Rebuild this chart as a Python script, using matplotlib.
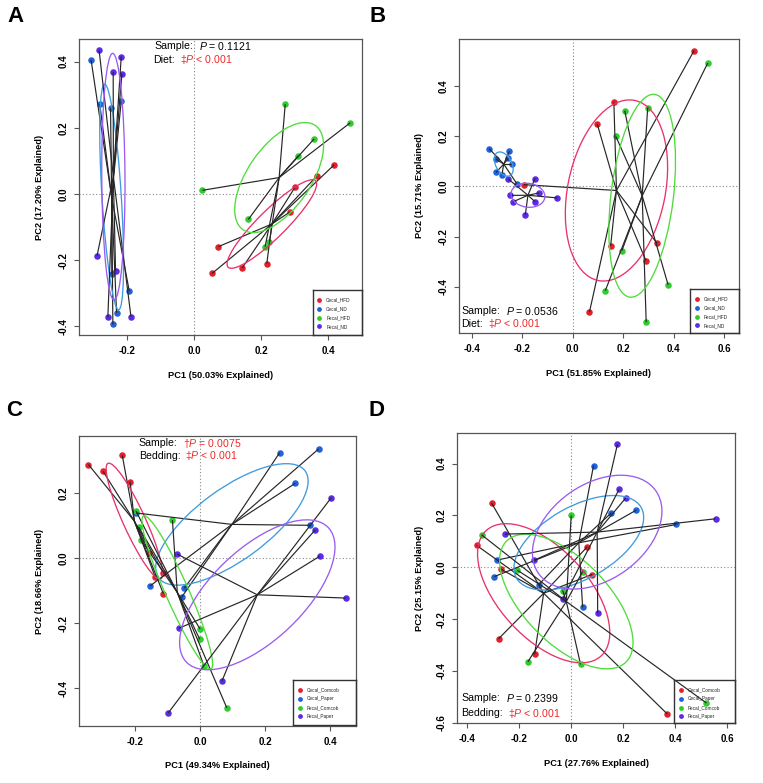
import numpy as np
import matplotlib
matplotlib.use("Agg")
import matplotlib.pyplot as plt
from matplotlib.patches import Ellipse

plt.rcParams['font.family'] = ['Liberation Sans', 'DejaVu Sans']
plt.rcParams['mathtext.fontset'] = 'custom'
plt.rcParams['mathtext.rm'] = 'Liberation Sans'
plt.rcParams['mathtext.it'] = 'Liberation Sans:italic'

# ---------------- data ----------------
diet_groups = ["Cecal_HFD", "Cecal_ND", "Fecal_HFD", "Fecal_ND"]
bedding_groups = ["Cecal_Comcob", "Cecal_Paper", "Fecal_Comcob", "Fecal_Paper"]

# Panel A (Diet, PCA)
a_x = [0.054, 0.073, 0.144, 0.217, 0.285, 0.301, 0.366, 0.418,
       -0.307, -0.281, -0.249, -0.217, -0.245, -0.193, -0.231, -0.242,
       0.025, 0.162, 0.212, 0.225, 0.272, 0.311, 0.358, 0.466,
       -0.283, -0.217, -0.241, -0.215, -0.289, -0.234, -0.257, -0.188]
a_y = [-0.240, -0.159, -0.223, -0.211, -0.055, 0.020, 0.054, 0.088,
       0.405, 0.271, 0.259, 0.281, -0.243, -0.294, -0.359, -0.394,
       0.011, -0.077, -0.159, -0.146, 0.271, 0.115, 0.166, 0.215,
       0.434, 0.415, 0.368, 0.363, -0.186, -0.232, -0.373, -0.371]
a_grp = [0]*8 + [1]*8 + [2]*8 + [3]*8

# Panel B (Diet, PCoA)
b_x = [0.481, 0.163, 0.097, 0.150, 0.290, 0.334, 0.066, -0.195,
       -0.331, -0.251, -0.305, -0.255, -0.241, -0.304, -0.281, -0.222,
       0.535, 0.206, 0.297, 0.171, 0.195, 0.129, 0.378, 0.291,
       -0.255, -0.150, -0.133, -0.247, -0.238, -0.150, -0.061, -0.188]
b_y = [0.542, 0.335, 0.249, -0.239, -0.296, -0.227, -0.502, 0.007,
       0.150, 0.140, 0.109, 0.112, 0.089, 0.056, 0.045, 0.011,
       0.492, 0.302, 0.314, 0.199, -0.256, -0.416, -0.393, -0.542,
       0.029, 0.031, -0.026, -0.036, -0.062, -0.061, -0.046, -0.113]
b_grp = [0]*8 + [1]*8 + [2]*8 + [3]*8

# Panel C (Bedding, PCA)
c_x = [-0.343, -0.298, -0.239, -0.215, -0.156, -0.138, -0.113, -0.113,
       -0.197, -0.154, -0.049, -0.057, 0.244, 0.364, 0.292, 0.339,
       -0.197, -0.085, -0.189, -0.182, 0.000, -0.001, 0.012, 0.082,
       -0.070, -0.065, 0.067, -0.098, 0.354, 0.368, 0.403, 0.447]
c_y = [0.289, 0.268, 0.317, 0.236, 0.017, -0.057, -0.044, -0.108,
       0.140, -0.085, -0.092, -0.120, 0.325, 0.337, 0.231, 0.102,
       0.146, 0.118, 0.097, 0.058, -0.217, -0.249, -0.331, -0.460,
       0.013, -0.215, -0.378, -0.476, 0.088, 0.007, 0.187, -0.122]
c_grp = [0]*8 + [1]*8 + [2]*8 + [3]*8

# Panel D (Bedding, PCoA)
d_x = [-0.307, -0.364, -0.269, 0.062, 0.080, -0.280, -0.141, 0.370,
       0.086, 0.155, 0.250, 0.405, -0.284, -0.296, -0.126, 0.044,
       -0.345, -0.207, 0.000, 0.044, -0.033, -0.167, 0.036, 0.521,
       0.178, 0.184, 0.210, 0.556, -0.255, -0.143, -0.032, 0.102]
d_y = [0.248, 0.084, -0.008, 0.079, -0.028, -0.276, -0.336, -0.566,
       0.392, 0.210, 0.220, 0.165, 0.028, -0.036, -0.068, -0.155,
       0.125, -0.012, 0.200, -0.017, -0.090, -0.365, -0.375, -0.524,
       0.474, 0.300, 0.267, 0.187, 0.128, 0.027, -0.121, -0.178]
d_grp = [0]*8 + [1]*8 + [2]*8 + [3]*8

pc1_labels = ["PC1 (50.03% Explained)", "PC1 (51.85% Explained)",
              "PC1 (49.34% Explained)", "PC1 (27.76% Explained)"]
pc2_labels = ["PC2 (17.20% Explained)", "PC2 (15.71% Explained)",
              "PC2 (18.66% Explained)", "PC2 (25.15% Explained)"]
sample_p = ["P = 0.1121", "P = 0.0536", "†P = 0.0075", "P = 0.2399"]
factor_p = ["‡P < 0.001", "‡P < 0.001", "‡P < 0.001", "‡P < 0.001"]
factor_names = ["Diet:", "Diet:", "Bedding:", "Bedding:"]
sample_sig = [False, False, True, False]

# ---------------- style ----------------
W, H = 763, 783
point_cols = ['#E3212B', '#2162DB', '#2FCB2F', '#5B2BE8']
ell_cols = ['#E8336A', '#3E9BE0', '#4EDC3A', '#9A5CF0']
red_txt = '#F02828'
box_col = '#555555'

fig = plt.figure(figsize=(W / 100, H / 100), dpi=100)


def px_rect(l, t, r, b):
    return [l / W, 1 - b / H, (r - l) / W, (b - t) / H]


def fmt_p(s):
    return s.replace("P", "$P$")


panels = [
    dict(x=a_x, y=a_y, g=a_grp, names=diet_groups, rect=(79, 39, 362, 335),
         xlim=(-0.343, 0.501), ylim=(-0.426, 0.468),
         xt=[-0.2, 0.0, 0.2, 0.4], yt=[-0.4, -0.2, 0.0, 0.2, 0.4],
         letter=('A', 15, 16), txt=(154, 199, 46, 153, 180, 60),
         leg=(312.7, 290, 362, 335), xl=41, yl=39),
    dict(x=b_x, y=b_y, g=b_grp, names=diet_groups, rect=(459, 39, 739, 333),
         xlim=(-0.451, 0.659), ylim=(-0.585, 0.588),
         xt=[-0.4, -0.2, 0.0, 0.2, 0.4, 0.6], yt=[-0.4, -0.2, 0.0, 0.2, 0.4],
         letter=('B', 378, 16), txt=(461, 506, 310.7, 461, 487.7, 324),
         leg=(690.3, 289, 739.3, 333.3), xl=40, yl=39),
    dict(x=c_x, y=c_y, g=c_grp, names=bedding_groups, rect=(79, 436, 356, 726),
         xlim=(-0.372, 0.479), ylim=(-0.516, 0.377),
         xt=[-0.2, 0.0, 0.2, 0.4], yt=[-0.4, -0.2, 0.0, 0.2],
         letter=('C', 14, 411), txt=(138.7, 182.7, 443.3, 138.7, 185.3, 456),
         leg=(293.3, 680, 356, 725), xl=40, yl=39),
    dict(x=d_x, y=d_y, g=d_grp, names=bedding_groups, rect=(457, 433, 735, 723),
         xlim=(-0.440, 0.631), ylim=(-0.601, 0.518),
         xt=[-0.4, -0.2, 0.0, 0.2, 0.4, 0.6], yt=[-0.6, -0.4, -0.2, 0.0, 0.2, 0.4],
         letter=('D', 377, 411), txt=(461, 505.7, 698.3, 461, 507.7, 713.3),
         leg=(674, 680, 734.7, 723.3), xl=40, yl=38),
]

for i, p in enumerate(panels):
    l, t, r, b = p['rect']
    ax = fig.add_axes(px_rect(l, t, r, b))
    ax.set_xlim(*p['xlim'])
    ax.set_ylim(*p['ylim'])
    x = np.array(p['x'])
    y = np.array(p['y'])
    g = np.array(p['g'])

    ax.axhline(0, color='#888888', lw=0.8, ls=(0, (1, 2)), zorder=1)
    ax.axvline(0, color='#888888', lw=0.8, ls=(0, (1, 2)), zorder=1)

    for k in range(4):
        m = g == k
        gx, gy = x[m], y[m]
        ax.scatter(gx, gy, s=22, color=point_cols[k], zorder=2, linewidths=0)
        cx, cy = gx.mean(), gy.mean()
        for px_, py_ in zip(gx, gy):
            ax.plot([cx, px_], [cy, py_], color='#262626', lw=0.85, zorder=3,
                    solid_capstyle='butt')
        cov = np.cov(gx, gy)
        vals, vecs = np.linalg.eigh(cov)
        ang = np.degrees(np.arctan2(vecs[1, 1], vecs[0, 1]))
        e = Ellipse((cx, cy), 2 * np.sqrt(vals[1]), 2 * np.sqrt(vals[0]),
                    angle=ang, fill=False, edgecolor=ell_cols[k], lw=0.95, zorder=3)
        ax.add_patch(e)

    for s in ax.spines.values():
        s.set_color(box_col)
        s.set_linewidth(0.9)
    ax.set_xticks(p['xt'])
    ax.set_xticklabels([f"{v:.1f}" for v in p['xt']], fontweight='bold', fontsize=7)
    ax.set_yticks(p['yt'])
    ax.set_yticklabels([f"{v:.1f}" for v in p['yt']], fontweight='bold', fontsize=7,
                       rotation=90, va='center')
    ax.tick_params(direction='out', length=3.6, width=0.8, color=box_col, pad=4.2)

    axw, axh = r - l, b - t
    ax.set_xlabel(pc1_labels[i], fontsize=6.7, fontweight='bold')
    ax.xaxis.set_label_coords(0.5, -p['xl'] / axh)
    ax.xaxis.label.set_va('center')
    ax.set_ylabel(pc2_labels[i], fontsize=6.7, fontweight='bold')
    ax.yaxis.set_label_coords(-p['yl'] / axw, 0.5)
    ax.yaxis.label.set_va('center')

    let, lx, ly = p['letter']
    fig.text(lx / W, 1 - ly / H, let, fontsize=16, fontweight='bold',
             ha='center', va='center')

    sx, svx, sy, fx, fvx, fy = p['txt']
    fig.text(sx / W, 1 - sy / H, "Sample:", fontsize=7.6, ha='left', va='center')
    fig.text(svx / W, 1 - sy / H, fmt_p(sample_p[i]), fontsize=7.6, ha='left',
             va='center', color=red_txt if sample_sig[i] else 'black')
    fig.text(fx / W, 1 - fy / H, factor_names[i], fontsize=7.6, ha='left', va='center')
    fig.text(fvx / W, 1 - fy / H, fmt_p(factor_p[i]), fontsize=7.6, ha='left',
             va='center', color=red_txt)

    ll, lt, lr, lb = p['leg']
    lax = fig.add_axes(px_rect(ll, lt, lr, lb))
    lax.set_xlim(0, lr - ll)
    lax.set_ylim(lb - lt, 0)
    lax.patch.set_alpha(0)
    lax.set_xticks([])
    lax.set_yticks([])
    for s in lax.spines.values():
        s.set_color('#333333')
        s.set_linewidth(1.0)
    for k, name in enumerate(p['names']):
        yy = 10 + 8.8 * k
        lax.scatter([6.7], [yy], s=12, color=point_cols[k], linewidths=0)
        lax.text(13.5, yy, name, fontsize=3.4, va='center', ha='left', color='#222222')

fig.savefig("out.png", dpi=100)
